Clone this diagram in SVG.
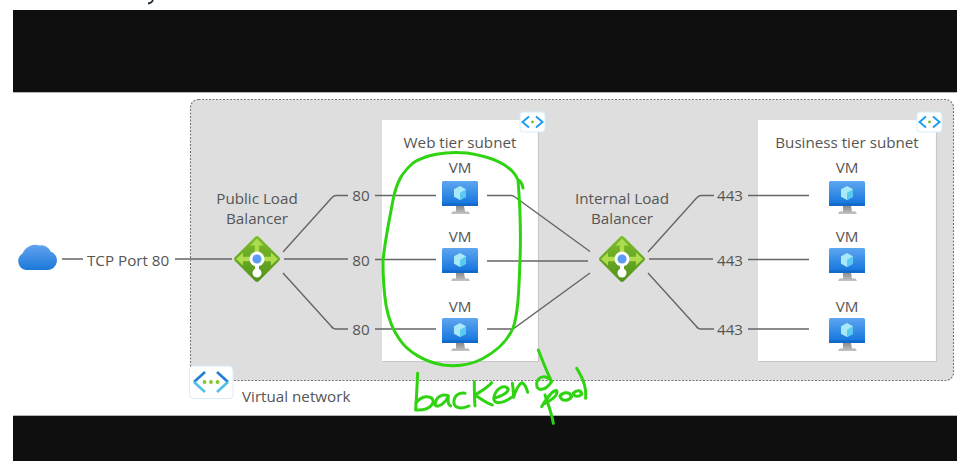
<svg xmlns="http://www.w3.org/2000/svg" width="967" height="469" viewBox="0 0 967 469">
<style>
text{font-family:"Open Sans","Noto Sans","Liberation Sans",sans-serif;font-size:15.2px;fill:#555}
.m{text-anchor:middle}
.c{fill:none;stroke:#666;stroke-width:1.4}
.ink{fill:none;stroke:#2fd411;stroke-width:3;stroke-linecap:round;stroke-linejoin:round}
.ink3{fill:none;stroke:#2fd411;stroke-width:9;stroke-linecap:round;stroke-linejoin:round}
.sub{fill:#fff}
.edge{fill:none;stroke:#c8c8c8;stroke-width:1.2}
</style>
<defs>
<linearGradient id="mon" x1="0" y1="0" x2="0" y2="1"><stop offset="0" stop-color="#5ea6f0"/><stop offset="1" stop-color="#0f72dc"/></linearGradient>
<linearGradient id="cl" x1="0" y1="0" x2="0" y2="1"><stop offset="0" stop-color="#62a3ef"/><stop offset="1" stop-color="#1b78d8"/></linearGradient>
<linearGradient id="dia" x1="0" y1="0" x2="0" y2="1"><stop offset="0" stop-color="#7cbd2c"/><stop offset="1" stop-color="#54931c"/></linearGradient>
<linearGradient id="st" x1="0" y1="0" x2="0" y2="1"><stop offset="0" stop-color="#8c8c8c"/><stop offset="1" stop-color="#c4c4c4"/></linearGradient>
<g id="vm">
<path d="M-4 11h8l1 5.500h3.500l1.500 2.500h-19l1.500-2.500h3.500z" fill="url(#st)"/>
<rect x="-18" y="-14" width="36" height="25" rx="1.500" fill="url(#mon)"/>
<rect x="-18" y="8.500" width="36" height="2.500" fill="#1468c6"/>
<path d="M0-9l6 3.300v7.400l-6 3.300l-6-3.300v-7.400z" fill="#a8e8f9"/>
<path d="M0-2.200l6-3.500v7.400l-6 3.300z" fill="#58caef"/>
</g>
<g id="lb">
<path d="M-2-22L-22-2Q-24 0-22 2L-2 22Q0 24 2 22L22 2Q24 0 22-2L2-22Q0-24-2-22z" fill="url(#dia)"/>
<path d="M0-20.500l6.500 7h-4.300v7.500h-4.400v-7.500h-4.300zM-21 0l7-6.500v4.300h7v4.400h-7v4.300zM21 0l-7-6.500v4.300h-7v4.400h7v4.300z" fill="#aedc4e"/>
<rect x="-2" y="6" width="4" height="8" fill="#fff"/>
<circle r="7.500" fill="#fff"/><circle r="4.600" fill="#5b9bf0"/><circle cy="14" r="4.500" fill="#fff"/>
</g>
<g id="vnet">
<rect x="-12.500" y="-10" width="25" height="20" rx="3" fill="#fff" stroke="#d8ecfa"/>
<path d="M-3.500-5.500l-6.500 5.500l6.500 5.500" fill="none" stroke="#1a9cf0" stroke-width="1.900"/>
<path d="M3.500-5.500l6.500 5.500l-6.500 5.500" fill="none" stroke="#1a9cf0" stroke-width="1.900"/>
<circle r="1.400" fill="#7fba1f"/>
</g>
</defs>
<rect width="967" height="469" fill="#fff"/>
<path d="M153 0q-1 3-5 3.500" fill="none" stroke="#26323f" stroke-width="1.800"/>
<rect id="band-top" x="13" y="10" width="944" height="82" fill="#0f0f0f"/>
<rect x="13" y="92" width="944" height="1" fill="#b4b4b4"/>
<rect x="13" y="415" width="944" height="1" fill="#b4b4b4"/>
<rect id="band-bottom" x="13" y="416" width="944" height="45" fill="#0f0f0f"/>
<g id="vnet-box"><rect x="190.500" y="99.500" width="763" height="281" rx="8" fill="#dedede" stroke="#777" stroke-width="1.100" stroke-dasharray="2 1.500"/></g>
<g id="web-subnet"><rect class="sub" x="382" y="120" width="156" height="241"/><path class="edge" d="M538.500 120v241.500h-156.500"/><text class="m" x="460" y="147.500">Web tier subnet</text><use href="#vnet" x="532.500" y="122"/></g>
<g id="biz-subnet"><rect class="sub" x="758" y="120" width="178" height="241"/><path class="edge" d="M936.500 120v241.500h-178.500"/><text class="m" x="847" y="147.500">Business tier subnet</text><use href="#vnet" x="929.500" y="122"/></g>
<g id="connectors">
<path class="c" d="M62 259h21M175 259h57"/>
<path class="c" d="M283 252l49-54.500q2-2 4-2h12M284 259h64M283 273l48 53q2 3 5 3h12"/>
<path class="c" d="M375 195.500h61M375 259.500h61M375 329h61"/>
<path class="c" d="M487 195.500h24q2.500 0 4 1.500l75 54.500M487 261h101M487 329h26l77-56"/>
<path class="c" d="M648 252l49-54.500q2-2 4-2h13M649 259h64M648 273l48 53q2 3 5 3h13"/>
<path class="c" d="M748 195.500h61M748 259.500h61M748 329h61"/>
</g>
<g id="cloud"><path d="M26 270h21.500a9.500 9.500 0 0 0 3-18.500a10 10 0 0 0-11-6a14 14 0 0 0-17 8a9 9 0 0 0 3.500 16.500z" fill="url(#cl)"/></g>
<text x="87" y="265.500">TCP Port 80</text>
<g id="public-lb"><use href="#lb" x="257" y="259"/><text class="m" x="257" y="204">Public Load</text><text class="m" x="257" y="224">Balancer</text></g>
<g id="internal-lb"><use href="#lb" x="622" y="259"/><text class="m" x="622" y="204">Internal Load</text><text class="m" x="622" y="224">Balancer</text></g>
<text class="m" x="361" y="201">80</text><text class="m" x="361" y="266">80</text><text class="m" x="361" y="335">80</text>
<text class="m" x="730" y="201">443</text><text class="m" x="730" y="266">443</text><text class="m" x="730" y="335">443</text>
<g id="vm-w1"><text class="m" x="460" y="173">VM</text><use href="#vm" x="460" y="195"/></g>
<g id="vm-w2"><text class="m" x="460" y="242">VM</text><use href="#vm" x="460" y="262"/></g>
<g id="vm-w3"><text class="m" x="460" y="312">VM</text><use href="#vm" x="460" y="332"/></g>
<g id="vm-b1"><text class="m" x="847" y="173">VM</text><use href="#vm" x="847" y="195"/></g>
<g id="vm-b2"><text class="m" x="847" y="242">VM</text><use href="#vm" x="847" y="262"/></g>
<g id="vm-b3"><text class="m" x="847" y="312">VM</text><use href="#vm" x="847" y="332"/></g>
<g id="vnet-main"><rect x="189.500" y="366" width="43.500" height="32.500" rx="4" fill="#fff" stroke="#d8ecfa"/>
<path d="M205 372l-11 10" fill="none" stroke="#1f7fd0" stroke-width="2.600"/><path d="M194 382l11 10" fill="none" stroke="#4fc0ea" stroke-width="2.600"/>
<path d="M217 372l11 10" fill="none" stroke="#1f7fd0" stroke-width="2.600"/><path d="M228 382l-11 10" fill="none" stroke="#4fc0ea" stroke-width="2.600"/>
<circle cx="204.500" cy="382" r="1.900" fill="#84c52a"/><circle cx="211" cy="382" r="1.900" fill="#84c52a"/><circle cx="217.500" cy="382" r="1.900" fill="#84c52a"/></g>
<text x="242" y="402">Virtual network</text>
<path class="ink" d="M523 188C522 182 519 180 518 180C513 168 500 158 467 153C445 151 425 155 413 163C403 172 397 180 393 200C389 222 384 245 383 262C383 280 384 292 386 305C389 322 394 332 400 340C408 352 425 362 443 365C458 367 470 365 482 359C497 351 508 340 513 328C518 315 519 290 520 260C521 235 520 205 518 180"/>
<g transform="translate(405 340) scale(.3333)">
<path class="ink3" d="M38 100C36 140 34 180 32 210C55 212 80 205 85 185C82 165 50 165 32 190"/>
<path class="ink3" d="M130 167C110 160 92 172 90 195C100 205 120 190 130 170C128 185 130 195 137 198"/>
<path class="ink3" d="M180 160C160 155 145 170 147 190C150 205 170 208 192 198"/>
<path class="ink3" d="M208 125C208 150 208 175 210 198M260 128C245 145 225 155 210 165C225 175 245 190 262 195"/>
<path class="ink3" d="M266 175C285 170 308 160 310 148C300 130 272 145 266 175C268 195 295 190 320 172"/>
<path class="ink3" d="M322 130C325 145 325 160 326 172C330 155 342 130 352 128C362 135 365 145 368 157"/>
<path class="ink3" d="M440 125C425 105 400 105 395 130C393 155 420 155 440 125C425 95 412 60 400 30"/>
<path class="ink3" d="M420 165C430 195 442 225 445 250"/>
<path class="ink3" d="M410 200C425 175 445 150 455 152C460 165 440 180 420 190"/>
<path class="ink3" d="M465 168C475 155 495 155 500 170C490 185 470 185 465 168z"/>
<path class="ink3" d="M505 160C515 148 530 150 530 163C520 172 507 170 505 160z"/>
<path class="ink3" d="M515 85C530 110 545 135 542 175"/>
</g>
</svg>
